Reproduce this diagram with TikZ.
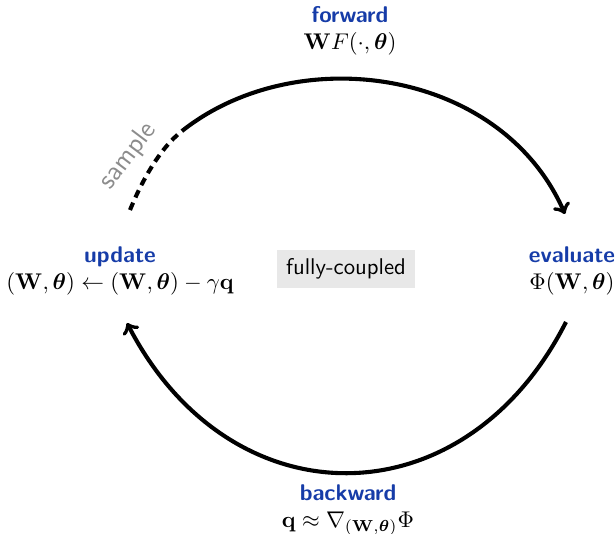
\documentclass[tikz,border=0pt]{standalone}
\usepackage{amsmath,amssymb,bm}
\definecolor{stageblue}{RGB}{22,60,168}
\newcommand{\stagename}[1]{\textcolor{stageblue}{\sffamily\bfseries #1}}
\tikzset{
  stage/.style={align=center, inner sep=1pt},
  loop/.style={line width=1.8pt},
  coupled/.style={fill=black!9, inner sep=4pt, font=\sffamily},
}

\begin{document}
\begin{tikzpicture}[x=0.44pt, y=-0.44pt]
  \useasboundingbox (0,0) rectangle (616,534);
  \node[stage] (forward) at (350,31) {\stagename{forward}\\$\mathbf{W}F(\cdot,\bm{\theta})$};
  \node[stage] (evaluate) at (572,271) {\stagename{evaluate}\\$\Phi(\mathbf{W},\bm{\theta})$};
  \node[stage] (backward) at (348,510) {\stagename{backward}\\$\mathbf{q}\approx\nabla_{(\mathbf{W},\bm{\theta})}\Phi$};
  \node[stage] (update) at (120,271) {\stagename{update}\\$(\mathbf{W},\bm{\theta})\leftarrow(\mathbf{W},\bm{\theta})-\gamma\mathbf{q}$};
  \node[coupled] (coupled) at (346,269) {fully-coupled};
  \node[rotate=53, text=black!45, font=\sffamily\large, inner sep=0pt] (sample) at (128,156) {sample};
  \coordinate (upd-out) at (130,210);
  \coordinate (smp-end) at (182,131);
  \coordinate (eval-in) at (565,214);
  \coordinate (eval-out) at (566,322);
  \coordinate (upd-in) at (127,323);
  \draw[loop, dash pattern=on 3.5pt off 2.5pt] (upd-out) .. controls (141,183) and (159,149) .. (smp-end);
  \draw[loop, ->] (smp-end) .. controls (297,40) and (501,68) .. (eval-in);
  \draw[loop, ->] (eval-out) .. controls (464,523) and (230,523) .. (upd-in);
\end{tikzpicture}
\end{document}
